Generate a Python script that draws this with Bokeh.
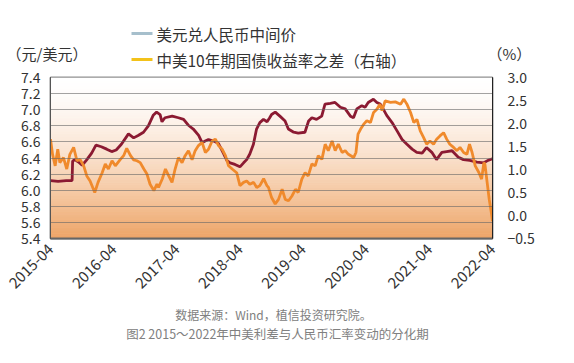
from bokeh.plotting import figure
from bokeh.models import (Range1d, LinearAxis, FixedTicker, DatetimeTickFormatter,
                          PrintfTickFormatter)
from bokeh.core.properties import value
from bokeh.embed import file_html
from bokeh.resources import INLINE
import numpy as np
import pandas as pd

# ---------------- data ----------------
usdcny_dates = [
    "2015-04-01", "2015-05-15", "2015-07-01", "2015-08-04", "2015-08-07", "2015-08-20",
    "2015-09-10", "2015-10-01", "2015-10-25", "2015-11-25", "2015-12-20", "2016-01-20",
    "2016-02-20", "2016-03-20", "2016-04-15", "2016-05-15", "2016-06-25", "2016-07-25",
    "2016-08-20", "2016-09-20", "2016-10-18", "2016-11-15", "2016-12-05", "2016-12-25",
    "2017-01-05", "2017-01-22", "2017-03-05", "2017-04-10", "2017-05-10", "2017-06-05",
    "2017-07-05", "2017-08-05", "2017-08-25", "2017-09-12", "2017-10-01", "2017-11-01",
    "2017-11-28", "2017-12-28", "2018-01-15", "2018-02-03", "2018-03-03", "2018-04-01",
    "2018-04-22", "2018-05-10", "2018-05-28", "2018-06-18", "2018-07-06", "2018-07-25",
    "2018-08-15", "2018-09-05", "2018-09-20", "2018-10-01", "2018-10-22", "2018-11-18",
    "2018-12-18", "2019-01-06", "2019-02-06", "2019-03-04", "2019-04-12", "2019-05-03",
    "2019-05-22", "2019-06-18", "2019-07-18", "2019-08-06", "2019-09-06", "2019-10-03",
    "2019-11-03", "2019-12-01", "2019-12-31", "2020-01-18", "2020-02-06", "2020-03-06",
    "2020-03-25", "2020-04-12", "2020-05-12", "2020-06-01", "2020-06-20", "2020-07-05",
    "2020-07-28", "2020-08-28", "2020-09-25", "2020-10-25", "2020-11-22", "2020-12-22",
    "2021-01-18", "2021-02-18", "2021-03-15", "2021-04-15", "2021-05-12", "2021-06-12",
    "2021-07-10", "2021-08-10", "2021-09-15", "2021-10-15", "2021-11-20", "2022-01-01",
    "2022-02-10", "2022-03-06", "2022-04-01",
]
usdcny = [
    6.12, 6.11, 6.12, 6.12, 6.36, 6.38,
    6.35, 6.31, 6.37, 6.46, 6.56, 6.54,
    6.51, 6.48, 6.50, 6.57, 6.70, 6.65,
    6.68, 6.72, 6.80, 6.93, 6.97, 6.94,
    6.85, 6.90, 6.92, 6.90, 6.88, 6.81,
    6.76, 6.68, 6.59, 6.61, 6.63, 6.61,
    6.58, 6.45, 6.37, 6.34, 6.32, 6.29,
    6.34, 6.38, 6.45, 6.57, 6.76, 6.84,
    6.88, 6.85, 6.90, 6.94, 6.97, 6.92,
    6.86, 6.76, 6.72, 6.71, 6.72, 6.86,
    6.90, 6.88, 6.92, 7.07, 7.08, 7.09,
    7.03, 7.01, 6.92, 6.90, 7.01, 7.05,
    7.03, 7.09, 7.13, 7.09, 7.07, 7.02,
    6.93, 6.84, 6.74, 6.63, 6.57, 6.51,
    6.47, 6.46, 6.53, 6.47, 6.38, 6.47,
    6.48, 6.49, 6.41, 6.38, 6.37, 6.35,
    6.34, 6.37, 6.39,
]

spread_dates = [
    "2015-04-01", "2015-04-13", "2015-04-28", "2015-05-13", "2015-05-25", "2015-06-15",
    "2015-07-04", "2015-07-22", "2015-08-13", "2015-09-01", "2015-09-19", "2015-10-10",
    "2015-10-28", "2015-11-16", "2015-12-13", "2016-01-01", "2016-01-25", "2016-02-12",
    "2016-03-01", "2016-03-22", "2016-04-10", "2016-05-07", "2016-05-28", "2016-06-15",
    "2016-07-07", "2016-07-25", "2016-08-13", "2016-09-01", "2016-09-22", "2016-10-10",
    "2016-10-28", "2016-11-19", "2016-12-07", "2016-12-16", "2017-01-07", "2017-01-25",
    "2017-02-13", "2017-03-04", "2017-03-22", "2017-04-10", "2017-05-01", "2017-05-19",
    "2017-06-07", "2017-06-28", "2017-07-16", "2017-08-04", "2017-08-25", "2017-09-13",
    "2017-10-01", "2017-10-22", "2017-11-10", "2017-11-28", "2017-12-19", "2018-01-07",
    "2018-01-25", "2018-02-15", "2018-03-13", "2018-04-01", "2018-04-22", "2018-05-10",
    "2018-05-28", "2018-06-19", "2018-07-07", "2018-07-25", "2018-08-16", "2018-09-04",
    "2018-09-13", "2018-10-01", "2018-10-22", "2018-11-10", "2018-12-01", "2018-12-19",
    "2019-01-07", "2019-01-28", "2019-02-16", "2019-03-04", "2019-03-25", "2019-04-13",
    "2019-05-01", "2019-05-22", "2019-06-10", "2019-06-28", "2019-07-19", "2019-08-07",
    "2019-08-25", "2019-09-16", "2019-10-04", "2019-10-22", "2019-11-13", "2019-12-01",
    "2019-12-19", "2020-01-19", "2020-02-01", "2020-02-13", "2020-02-28", "2020-03-16",
    "2020-04-04", "2020-04-25", "2020-05-13", "2020-06-01", "2020-06-19", "2020-07-01",
    "2020-07-19", "2020-08-19", "2020-09-16", "2020-10-16", "2020-11-04", "2020-11-22",
    "2020-12-13", "2021-01-01", "2021-01-19", "2021-02-07", "2021-02-26", "2021-03-16",
    "2021-04-04", "2021-04-25", "2021-05-13", "2021-06-01", "2021-06-22", "2021-07-10",
    "2021-07-28", "2021-08-19", "2021-09-07", "2021-09-25", "2021-10-16", "2021-11-04",
    "2021-11-19", "2021-12-04", "2021-12-22", "2022-01-13", "2022-01-28", "2022-02-10",
    "2022-02-16", "2022-03-01", "2022-03-13", "2022-03-25", "2022-04-01",
]
spread = [
    1.66, 1.33, 1.08, 1.44, 1.15, 1.26,
    1.01, 1.33, 1.48, 1.19, 1.22, 1.08,
    0.86, 0.75, 0.50, 0.72, 0.93, 1.12,
    1.01, 1.19, 1.08, 1.21, 1.30, 1.46,
    1.30, 1.21, 1.19, 1.15, 1.01, 0.90,
    0.68, 0.54, 0.68, 0.61, 0.80, 1.01,
    0.86, 0.72, 1.01, 1.26, 1.15, 1.30,
    1.41, 1.21, 1.41, 1.52, 1.59, 1.37,
    1.44, 1.62, 1.66, 1.52, 1.44, 1.30,
    1.08, 1.01, 0.93, 0.65, 0.72, 0.75,
    0.68, 0.72, 0.61, 0.65, 0.80, 0.65,
    0.61, 0.39, 0.25, 0.35, 0.57, 0.35,
    0.32, 0.43, 0.57, 0.50, 0.79, 0.93,
    0.86, 1.12, 1.08, 1.30, 1.22, 1.55,
    1.41, 1.62, 1.41, 1.55, 1.37, 1.41,
    1.33, 1.26, 1.37, 1.77, 1.88, 1.98,
    2.06, 2.02, 2.24, 2.31, 2.42, 2.28,
    2.49, 2.46, 2.47, 2.42, 2.53, 2.42,
    2.24, 2.02, 2.09, 1.84, 1.70, 1.55,
    1.62, 1.55, 1.66, 1.73, 1.80, 1.66,
    1.55, 1.48, 1.41, 1.48, 1.37, 1.33,
    1.55, 1.37, 1.08, 0.93, 0.79, 1.15,
    1.12, 0.72, 0.35, 0.07, -0.12,
]

left_ticks = [5.4, 5.6, 5.8, 6.0, 6.2, 6.4, 6.6, 6.8, 7.0, 7.2, 7.4]
right_ticks = [-0.5, 0.0, 0.5, 1.0, 1.5, 2.0, 2.5, 3.0]
x_tick_dates = ["2015-04-01", "2016-04-01", "2017-04-01", "2018-04-01",
                "2019-04-01", "2020-04-01", "2021-04-01", "2022-04-01"]

legend_labels = ["美元兑人民币中间价", "中美10年期国债收益率之差（右轴）"]
legend_colors = ["#a6bfcc", "#f3c21a"]
unit_labels = ["（元/美元）", "（%）"]
source_text = "数据来源：Wind，植信投资研究院。"
caption_text = "图2 2015～2022年中美利差与人民币汇率变动的分化期"

# ---------------- layout constants (page pixels) ----------------
FONT = "Noto Sans CJK SC"
MAROON = "#8b1a32"
ORANGE = "#f08a2c"
W = 566
FL, FT, FW, FH = 50, 77, 442, 161
B_BOT = 112


def ms(d):
    return pd.Timestamp(d).value / 1e6


X0, X1 = ms(x_tick_dates[0]), ms(x_tick_dates[-1])
Y0, Y1 = left_ticks[0], left_ticks[-1]


def px(xp):
    # page x pixel -> data x (used only to place decorations outside the frame)
    return X0 + (xp - FL) / FW * (X1 - X0)


def py(yp):
    return Y1 - (yp - FT) * (Y1 - Y0) / FH


p = figure(x_axis_type="datetime", frame_width=FW, frame_height=FH,
           min_border_left=FL, min_border_right=W - FL - FW, min_border_top=FT,
           min_border_bottom=B_BOT, output_backend="svg", toolbar_location=None,
           x_range=Range1d(X0, X1), y_range=Range1d(Y0, Y1))
p.background_fill_color = "white"
p.border_fill_color = "white"
p.outline_line_color = "#222222"
p.outline_line_width = 1.5

# gradient background (stripes)
n = 60
edges = np.linspace(Y0, Y1, n + 1)
cols = []
for i in range(n):
    mid = (edges[i] + edges[i + 1]) / 2
    t = (Y1 - mid) / (Y1 - Y0)
    s = t ** 1.5
    r = int(round(255 + (238 - 255) * s))
    g = int(round(255 + (164 - 255) * s))
    b = int(round(255 + (102 - 255) * s))
    cols.append("#%02x%02x%02x" % (r, g, b))
p.quad(left=X0, right=X1, bottom=edges[:-1], top=edges[1:], fill_color=cols,
       line_color=cols, line_width=1, level="underlay")

p.xgrid.visible = False
p.ygrid.ticker = FixedTicker(ticks=left_ticks)
p.ygrid.grid_line_color = "#666666"
p.ygrid.grid_line_alpha = 0.6
p.ygrid.level = "glyph"

# series
p.extra_y_ranges = {"r": Range1d(right_ticks[0], right_ticks[-1])}
p.line([ms(d) for d in usdcny_dates], usdcny, line_color=MAROON, line_width=2.8)
p.line([ms(d) for d in spread_dates], spread, line_color=ORANGE, line_width=2.8,
       y_range_name="r")

# axes
p.yaxis.ticker = FixedTicker(ticks=left_ticks)
p.yaxis.formatter = PrintfTickFormatter(format="%.1f")
p.xaxis.ticker = FixedTicker(ticks=[ms(d) for d in x_tick_dates])
p.xaxis.formatter = DatetimeTickFormatter(years="%Y-%m", months="%Y-%m", days="%Y-%m",
                                          hours="%Y-%m", minutes="%Y-%m")
p.xaxis.major_label_orientation = np.pi / 4
ra = LinearAxis(y_range_name="r", ticker=FixedTicker(ticks=right_ticks),
                formatter=PrintfTickFormatter(format="%.1f"))
ra.major_label_overrides = {-0.5: "−0.5"}
p.add_layout(ra, "right")

for ax in [p.xaxis[0], p.yaxis[0], ra]:
    ax.major_tick_line_color = None
    ax.minor_tick_line_color = None
    ax.major_label_text_font = FONT
    ax.major_label_text_font_size = "14px"
    ax.major_label_text_color = "#333333"
p.xaxis[0].major_label_text_font_size = "15px"
p.yaxis[0].axis_line_color = "#555555"
p.yaxis[0].major_label_standoff = 4
ra.axis_line_color = "#222222"
ra.major_label_standoff = 9
p.xaxis[0].axis_line_color = "#666666"
p.xaxis[0].axis_line_width = 2
p.xaxis[0].major_label_standoff = 2

# legend (own swatch colours) and unit labels, drawn above the frame
p.segment(x0=[px(131)] * 2, y0=[py(33), py(59)], x1=[px(152)] * 2, y1=[py(33), py(59)],
          line_color=legend_colors, line_width=3, level="overlay")
p.text(x=[px(156)] * 2, y=[py(33), py(59)], text=legend_labels, text_font=value(FONT),
       text_font_size="15.5px", text_color="#333333", text_baseline="middle",
       text_align="left", level="overlay")
p.text(x=[px(6), px(487)], y=[py(53), py(53)], text=unit_labels, text_font=value(FONT),
       text_font_size="15px", text_color="#333333", text_baseline="middle",
       text_align="left", level="overlay")

# source and caption below the chart
p.text(x=[px(273), px(277)], y=[py(314), py(333)], text=[source_text, caption_text],
       text_font=value(FONT), text_font_size=["12px", "12.5px"],
       text_color="#808080", text_baseline="middle", text_align="center",
       level="overlay")

open("out.html", "w").write(file_html(p, INLINE))
